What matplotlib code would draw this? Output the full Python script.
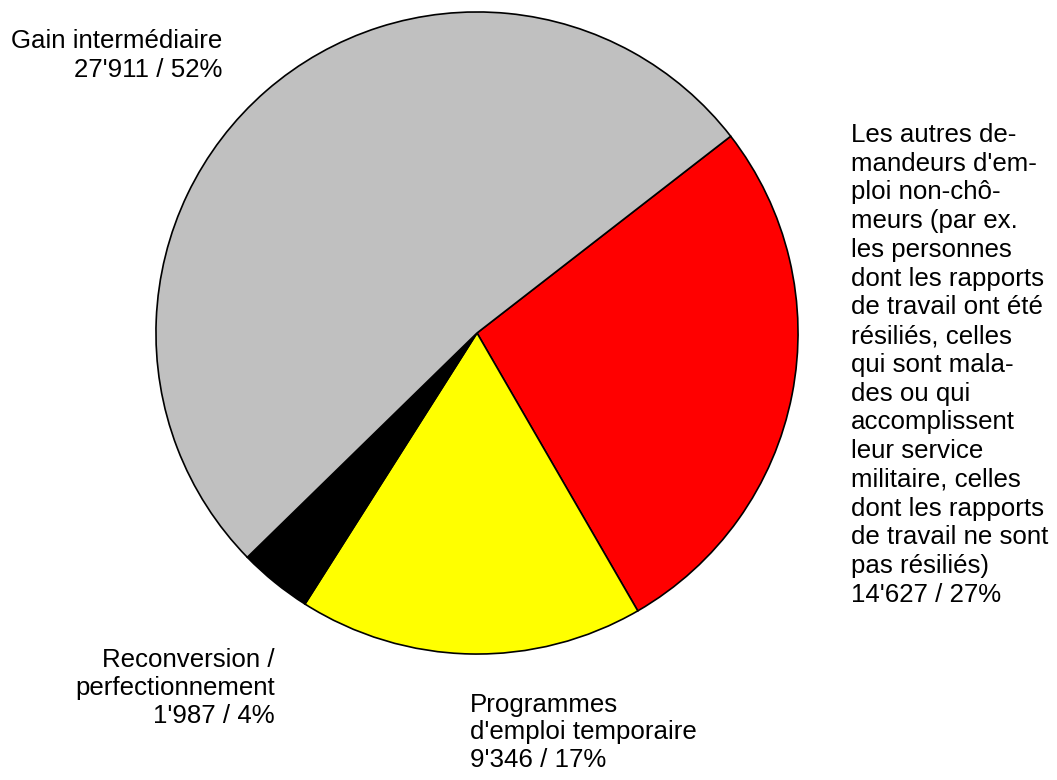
import matplotlib.pyplot as plt

plt.rcParams['font.family'] = ['Liberation Sans', 'DejaVu Sans']

# Données (ordre des secteurs, dans le sens horaire depuis le haut à droite)
categories = [
    "Les autres de-\nmandeurs d'em-\nploi non-chô-\nmeurs (par ex.\nles personnes\ndont les rapports\nde travail ont été\nrésiliés, celles\nqui sont mala-\ndes ou qui\naccomplissent\nleur service\nmilitaire, celles\ndont les rapports\nde travail ne sont\npas résiliés)",
    "Programmes\nd'emploi temporaire",
    "Reconversion /\nperfectionnement",
    "Gain intermédiaire",
]
values = [14627, 9346, 1987, 27911]
percents = [27, 17, 4, 52]
colors = ['#ff0000', '#ffff00', '#000000', '#c0c0c0']


def fmt(n):
    return f"{n:,}".replace(",", "'")


W, H = 1057, 780
fig = plt.figure(figsize=(W / 100, H / 100), dpi=100)

# position du disque en pixels
cx, cy, r = 477, 333, 322
ax = fig.add_axes([(cx - r) / W, (H - cy - r) / H, 2 * r / W, 2 * r / H])
ax.pie(values, colors=colors, startangle=37.8, counterclock=False,
       wedgeprops=dict(edgecolor='black', linewidth=1.2))
ax.set_xlim(-1.003, 1.003)
ax.set_ylim(-1.003, 1.003)
ax.set_aspect('equal')

# étiquettes : (x, y_haut, alignement, interligne)
label_pos = [(851, 123, 'left', 1.25), (470, 693, 'left', 1.18),
             (275, 648, 'right', 1.22), (222, 29, 'right', 1.25)]
for cat, v, p, (x, y, ha, ls) in zip(categories, values, percents, label_pos):
    fig.text(x / W, 1 - y / H, f"{cat}\n{fmt(v)} / {p}%", ha=ha, va='top',
             fontsize=18.6, linespacing=ls, multialignment=ha)

fig.savefig('out.png', dpi=100)
